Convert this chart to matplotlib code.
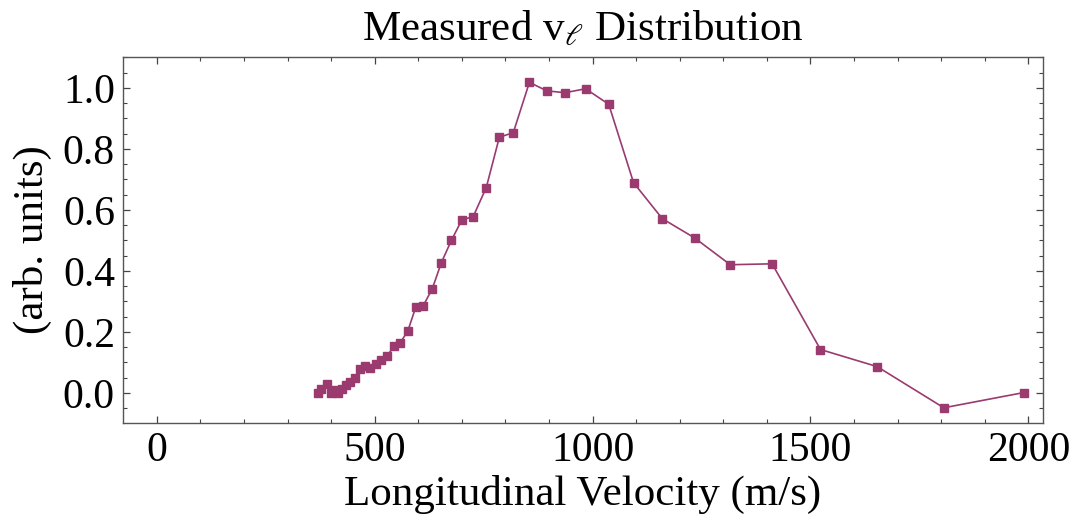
import matplotlib
matplotlib.use("Agg")
import matplotlib.pyplot as plt
from matplotlib.ticker import MultipleLocator

# measured longitudinal velocity distribution
velocity = [370, 377, 390, 399, 407, 416, 425, 435, 444, 455, 467, 478, 489, 502,
            515, 529, 545, 559, 576, 594, 611, 632, 653, 676, 700, 726, 756, 786,
            818, 855, 895, 937, 984, 1037, 1094, 1160, 1234, 1316, 1412, 1523,
            1653, 1806, 1990]
signal = [-0.002, 0.011, 0.029, 0.0, 0.009, -0.002, 0.014, 0.025, 0.037, 0.047,
          0.077, 0.087, 0.082, 0.093, 0.107, 0.122, 0.154, 0.165, 0.203, 0.280,
          0.285, 0.341, 0.427, 0.500, 0.567, 0.578, 0.673, 0.838, 0.853, 1.018,
          0.990, 0.984, 0.997, 0.946, 0.689, 0.571, 0.508, 0.420, 0.423, 0.142,
          0.086, -0.049, 0.001]

plt.rcParams['font.family'] = ['Liberation Serif', 'DejaVu Serif']
plt.rcParams['mathtext.fontset'] = 'stix'

fig = plt.figure(figsize=(10.72, 5.29), dpi=100)
ax = fig.add_axes([0.115, 0.2009, 0.8577, 0.6919])

col = '#9a3a6f'
ax.plot(velocity, signal, color=col, lw=1.2, marker='s', ms=5.3,
        mfc=col, mec=col)

ax.set_xlim(-77, 2033)
ax.set_ylim(-0.098, 1.102)
ax.xaxis.set_major_locator(MultipleLocator(500))
ax.xaxis.set_minor_locator(MultipleLocator(100))
ax.yaxis.set_major_locator(MultipleLocator(0.2))
ax.yaxis.set_minor_locator(MultipleLocator(0.05))
ax.yaxis.set_major_formatter(matplotlib.ticker.FormatStrFormatter('%.1f'))

ax.tick_params(which='both', direction='in', top=True, right=True,
               color='#444444', labelsize=30, pad=6)
ax.tick_params(which='major', length=5, width=0.9)
ax.tick_params(which='minor', length=3, width=0.8)
for s in ax.spines.values():
    s.set_color('#555555')
    s.set_linewidth(1.0)

ax.set_title(r'Measured v$_{\ell}$ Distribution', fontsize=31, pad=12)
ax.set_xlabel('Longitudinal Velocity (m/s)', fontsize=31, labelpad=4)
ax.set_ylabel('(arb. units)', fontsize=31, labelpad=8)

fig.savefig('out.png', dpi=100)
